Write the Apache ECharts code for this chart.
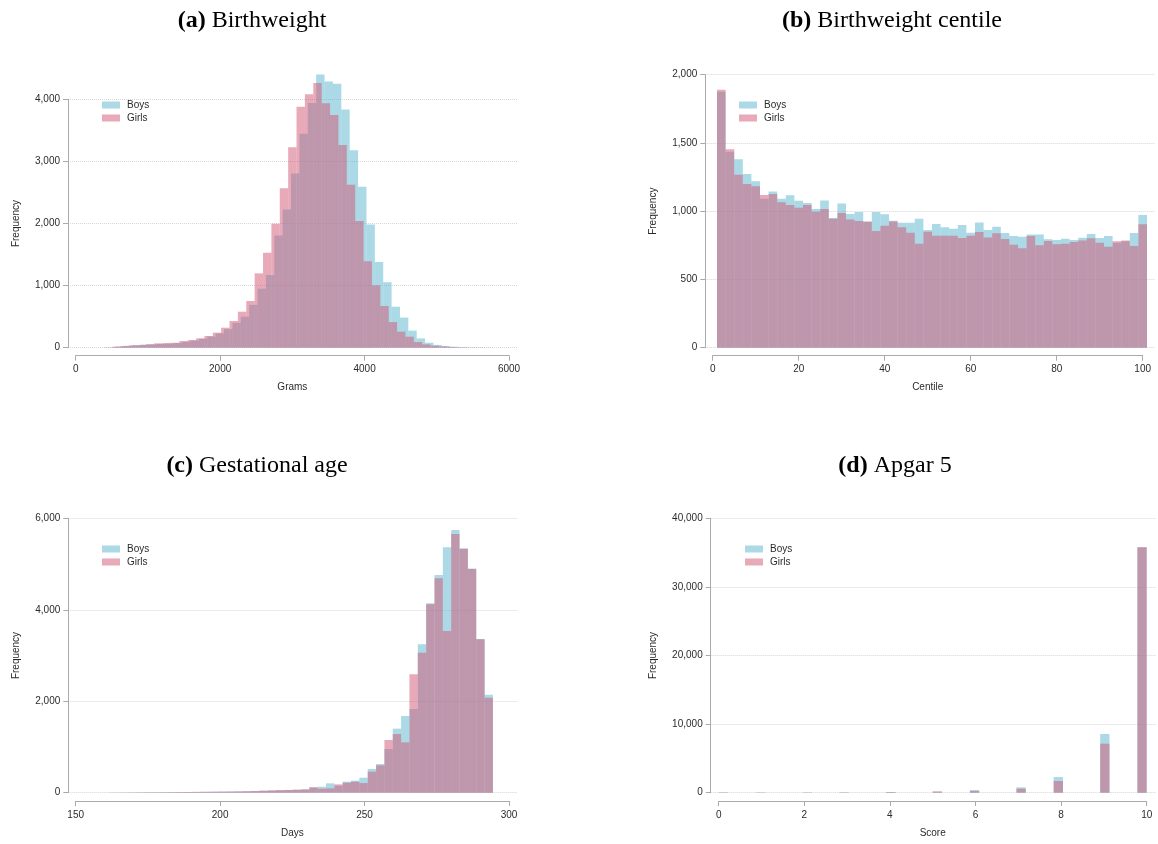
<!DOCTYPE html>
<html>
<head>
<meta charset="utf-8">
<title>Birth outcomes by sex</title>
<script src="https://cdn.jsdelivr.net/npm/echarts@6/dist/echarts.min.js"></script>
<style>
  html, body { margin: 0; padding: 0; background: #fff; }
  #main { width: 1158px; height: 844px; }
</style>
</head>
<body>
<div id="main"></div>
<script>
// -- data (Stata style histograms, 46 / 50 bins) --

// (a) birthweight in grams
let bwBoysStart = 430, bwBoysWidth = 116;
let bwBoys = [5, 20, 30, 40, 50, 55, 60, 65, 75, 95,
  115, 145, 180, 230, 300, 400, 500, 690, 950, 1170,
  1805, 2225, 2805, 3445, 3940, 4400, 4285, 4250, 3835, 3180,
  2590, 1985, 1380, 1055, 660, 485, 275, 150, 80, 45,
  27, 16, 10, 6, 4, 2];
let bwGirlsStart = 390, bwGirlsWidth = 116;
let bwGirls = [5, 16, 27, 38, 43, 55, 70, 75, 80, 107,
  123, 150, 188, 242, 322, 430, 580, 752, 1197, 1530,
  1997, 2566, 3227, 3882, 4080, 4263, 3935, 3748, 3264, 2625,
  2040, 1391, 1004, 671, 413, 258, 177, 91, 54, 32,
  21, 11, 5, 3, 2, 1];

// (b) birthweight centile
let centStart = 1, centWidth = 2;
let centBoys = [1875, 1435, 1380, 1272, 1219, 1092, 1145, 1092, 1116, 1077,
  1060, 1016, 1079, 950, 1057, 979, 994, 925, 994, 977,
  930, 916, 916, 945, 862, 906, 882, 872, 899, 843,
  918, 862, 886, 840, 818, 813, 830, 830, 794, 789,
  799, 789, 806, 833, 803, 818, 769, 779, 840, 972];
let centGirls = [1890, 1453, 1267, 1199, 1182, 1118, 1126, 1065, 1045, 1026,
  1045, 996, 1016, 945, 987, 940, 928, 923, 855, 894,
  925, 882, 843, 762, 850, 820, 820, 820, 803, 820,
  847, 808, 838, 796, 755, 728, 818, 750, 781, 757,
  762, 774, 786, 801, 769, 740, 779, 786, 745, 904];

// (c) gestational age in days
let gaStart = 161.5, gaWidth = 2.89;
let gaBoys = [3, 4, 6, 7, 9, 10, 11, 13, 14, 16,
  18, 20, 22, 24, 26, 28, 30, 34, 40, 44,
  50, 58, 66, 73, 115, 131, 204, 153, 241, 262,
  328, 518, 627, 955, 1400, 1677, 1830, 3244, 4141, 4760,
  5365, 5745, 5344, 4900, 3361, 2143];
let gaGirls = [2, 4, 5, 6, 8, 9, 10, 11, 13, 15,
  17, 19, 21, 23, 25, 28, 32, 36, 44, 52,
  58, 60, 64, 70, 117, 87, 95, 182, 219, 241,
  211, 459, 598, 1152, 1283, 1101, 2588, 3062, 4119, 4687,
  3536, 5657, 5329, 4890, 3355, 2078];

// (d) apgar score at 5 minutes, 46 bins over 0-10
let apgarScores = [0, 1, 2, 3, 4, 5, 6, 7, 8, 9, 10];
let apgarBoys = [50, 40, 40, 50, 97, 146, 389, 778, 2284, 8554, 35770];
let apgarGirls = [45, 35, 35, 45, 90, 194, 243, 583, 1701, 7144, 35770];
let apgarBins = 46, apgarMax = 10;

// -- colours --
let boysColor = 'rgba(87,179,205,0.5)';
let girlsColor = 'rgba(209,85,115,0.5)';
let textColor = '#2b2b2b';
let axisColor = '#aaa';
let sans = 'Liberation Sans';
let serif = 'Liberation Serif';

function binsFromStart(start, width, counts) {
  return counts.map(function (c, i) {
    return [start + i * width, start + (i + 1) * width, c];
  });
}

function binsFromScores(scores, counts) {
  let w = apgarMax / apgarBins;
  return scores.map(function (s, i) {
    let k = Math.min(Math.floor(s / w + 1e-9), apgarBins - 1);
    return [k * w, (k + 1) * w, counts[i]];
  });
}

function renderBin(params, api) {
  let top = api.coord([api.value(0), api.value(2)]);
  let base = api.coord([api.value(1), 0]);
  return {
    type: 'rect',
    shape: {x: top[0], y: top[1], width: base[0] - top[0], height: base[1] - top[1]},
    style: {fill: api.visual('color')}
  };
}

// -- layout of the four panels (pixels) --
let panels = [
  {
    tag: '(a)', title: 'Birthweight', titleX: 252, titleY: 9,
    axisX: 68, plotRight: 517, x0px: 75.7, x1px: 509, y0px: 347.7, y1px: 99.3, xAxisY: 355.7,
    xMin: 0, xMax: 6000, xInt: 2000, yMax: 4000, yInt: 1000, xName: 'Grams', yGap: 47,
    legendX: 102, legendY: 100,
    boys: binsFromStart(bwBoysStart, bwBoysWidth, bwBoys),
    girls: binsFromStart(bwGirlsStart, bwGirlsWidth, bwGirls)
  },
  {
    tag: '(b)', title: 'Birthweight centile', titleX: 892, titleY: 9,
    axisX: 705.3, plotRight: 1155, x0px: 712.7, x1px: 1142.7, y0px: 347.7, y1px: 74.7, xAxisY: 355.7,
    xMin: 0, xMax: 100, xInt: 20, yMax: 2000, yInt: 500, xName: 'Centile', yGap: 47,
    legendX: 739, legendY: 100,
    boys: binsFromStart(centStart, centWidth, centBoys),
    girls: binsFromStart(centStart, centWidth, centGirls)
  },
  {
    tag: '(c)', title: 'Gestational age', titleX: 257, titleY: 454,
    axisX: 68.3, plotRight: 517, x0px: 75.7, x1px: 509, y0px: 792.7, y1px: 518.3, xAxisY: 801,
    xMin: 150, xMax: 300, xInt: 50, yMax: 6000, yInt: 2000, xName: 'Days', yGap: 47,
    legendX: 102, legendY: 544,
    boys: binsFromStart(gaStart, gaWidth, gaBoys),
    girls: binsFromStart(gaStart, gaWidth, gaGirls)
  },
  {
    tag: '(d)', title: 'Apgar 5', titleX: 895, titleY: 454,
    axisX: 710.7, plotRight: 1156, x0px: 718.7, x1px: 1146.7, y0px: 792.7, y1px: 518.3, xAxisY: 801,
    xMin: 0, xMax: 10, xInt: 2, yMax: 40000, yInt: 10000, xName: 'Score', yGap: 52,
    legendX: 745, legendY: 544,
    boys: binsFromScores(apgarScores, apgarBoys),
    girls: binsFromScores(apgarScores, apgarGirls)
  }
];

let option = {
  animation: false,
  backgroundColor: '#fff',
  title: [], legend: [], grid: [], xAxis: [], yAxis: [], series: []
};

panels.forEach(function (p, i) {
  let perPx = (p.xMax - p.xMin) / (p.x1px - p.x0px);

  option.title.push({
    text: '{b|' + p.tag + '} ' + p.title,
    left: p.titleX, top: p.titleY, textAlign: 'center', padding: 0,
    textStyle: {
      fontFamily: serif, fontSize: 24, fontWeight: 'normal', color: '#000',
      rich: {b: {fontFamily: serif, fontSize: 24, fontWeight: 'bold', color: '#000'}}
    }
  });

  option.legend.push({
    orient: 'vertical', left: p.legendX, top: p.legendY, padding: 0,
    itemWidth: 18, itemHeight: 7, itemGap: 3, icon: 'rect',
    data: ['Boys', 'Girls'],
    textStyle: {fontFamily: sans, fontSize: 10, color: textColor, padding: [0, 0, 0, 2]}
  });

  // plot region: hidden x scale, visible y axis with dotted grid
  option.grid.push({
    left: p.axisX, top: p.y1px, width: p.plotRight - p.axisX, height: p.y0px - p.y1px
  });
  // strip that carries the visible x axis
  option.grid.push({
    left: p.x0px, top: p.xAxisY - 1, width: p.x1px - p.x0px, height: 1
  });

  option.xAxis.push({
    type: 'value', gridIndex: 2 * i, show: false,
    min: p.xMin - (p.x0px - p.axisX) * perPx,
    max: p.xMax + (p.plotRight - p.x1px) * perPx
  });
  option.xAxis.push({
    type: 'value', gridIndex: 2 * i + 1, position: 'bottom',
    min: p.xMin, max: p.xMax, interval: p.xInt,
    name: p.xName, nameLocation: 'middle', nameGap: 27,
    nameTextStyle: {fontFamily: sans, fontSize: 10, color: textColor},
    axisLine: {show: true, onZero: false, lineStyle: {color: axisColor, width: 1}},
    axisTick: {show: true, length: 5, lineStyle: {color: axisColor}},
    axisLabel: {
      fontFamily: sans, fontSize: 10, color: textColor, margin: 9,
      formatter: function (v) { return String(v); }
    },
    splitLine: {show: false}
  });

  option.yAxis.push({
    type: 'value', gridIndex: 2 * i,
    min: 0, max: p.yMax, interval: p.yInt,
    name: 'Frequency', nameLocation: 'middle', nameRotate: 90, nameGap: p.yGap,
    nameTextStyle: {fontFamily: sans, fontSize: 10, color: textColor},
    axisLine: {show: true, onZero: false, lineStyle: {color: axisColor, width: 1}},
    axisTick: {show: true, length: 5, lineStyle: {color: axisColor}},
    axisLabel: {
      fontFamily: sans, fontSize: 10, color: textColor, margin: 8,
      formatter: function (v) { return v.toLocaleString('en-US'); }
    },
    splitLine: {show: true, lineStyle: {color: '#d6d6d6', type: 'dotted', width: 1}}
  });
  option.yAxis.push({
    type: 'value', gridIndex: 2 * i + 1, show: false
  });

  option.series.push({
    name: 'Boys', type: 'custom', xAxisIndex: 2 * i, yAxisIndex: 2 * i,
    itemStyle: {color: boysColor}, clip: false,
    encode: {x: [0, 1], y: 2},
    renderItem: renderBin, data: p.boys
  });
  option.series.push({
    name: 'Girls', type: 'custom', xAxisIndex: 2 * i, yAxisIndex: 2 * i,
    itemStyle: {color: girlsColor}, clip: false,
    encode: {x: [0, 1], y: 2},
    renderItem: renderBin, data: p.girls
  });
});

let chart = echarts.init(document.getElementById('main'));
chart.setOption(option);
</script>
</body>
</html>
